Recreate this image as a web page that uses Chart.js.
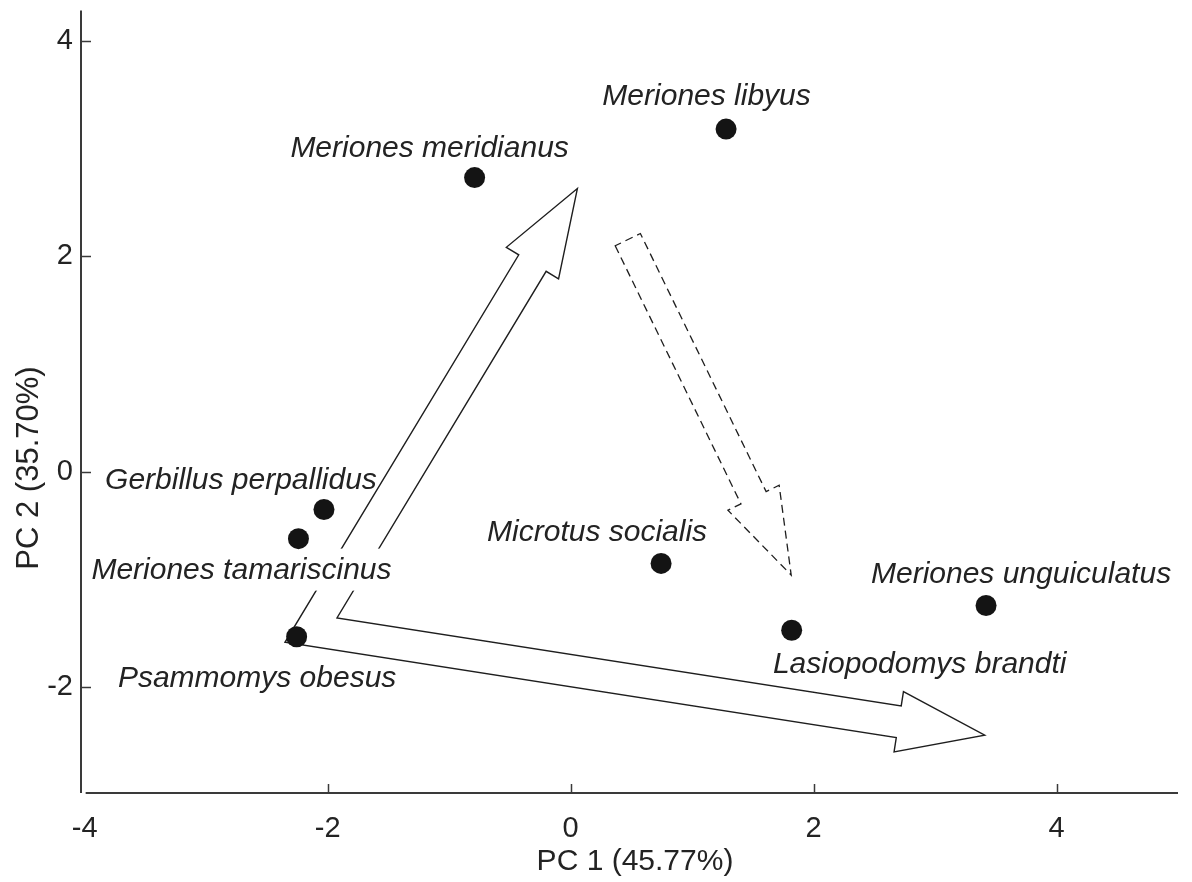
<!DOCTYPE html>
<html><head><meta charset="utf-8">
<script src="https://cdn.jsdelivr.net/npm/chart.js@4"></script>
<style>html,body{margin:0;padding:0;background:#fff}#wrap{width:1192px;height:882px;position:relative}</style>
</head><body><div id="wrap"><canvas id="c"></canvas></div>
<script>
// ---- data ----
const species = ["Meriones libyus","Meriones meridianus","Gerbillus perpallidus","Meriones tamariscinus","Psammomys obesus","Microtus socialis","Lasiopodomys brandti","Meriones unguiculatus"];
const pc1 = [1.28, -0.79, -2.03, -2.24, -2.255, 0.745, 1.82, 3.42];
const pc2 = [3.18, 2.73, -0.35, -0.62, -1.53, -0.85, -1.47, -1.24];
const xTicks = [-4, -2, 0, 2, 4];
const yTicks = [-2, 0, 2, 4];
const xTitle = "PC 1 (45.77%)";
const yTitle = "PC 2 (35.70%)";
// arrows, in data units
const solidArrowOrigin = [-2.137, -1.469];
const solidArrowTips = [[0.056, 2.628], [3.409, -2.443]];
const dashedArrowTail = [0.471, 2.154];
const dashedArrowTip = [1.816, -0.958];

// ---- layout / style ----
const FONT = "'Liberation Sans', Arial, Helvetica, sans-serif";
const INK = '#232323';
const labelOffsets = [[-19.5,-32.5],[-45,-29],[-83,-29],[-57,32],[-39.5,41.5],[-64,-31],[128,34],[35,-30.5]];
const labelBg = [false,false,false,true,false,false,false,false];

function px(chart, v){ return [chart.scales.x.getPixelForValue(v[0]), chart.scales.y.getPixelForValue(v[1])]; }
function norm(a){ const l = Math.hypot(a[0], a[1]); return [a[0]/l, a[1]/l]; }
function add(p, v, k){ return [p[0] + v[0]*k, p[1] + v[1]*k]; }
function intersect(p, d, q, e){
  const den = d[0]*e[1] - d[1]*e[0];
  const t = ((q[0]-p[0])*e[1] - (q[1]-p[1])*e[0]) / den;
  return [p[0] + t*d[0], p[1] + t*d[1]];
}
function poly(ctx, pts){
  ctx.beginPath();
  ctx.moveTo(pts[0][0], pts[0][1]);
  for (let i = 1; i < pts.length; i++) ctx.lineTo(pts[i][0], pts[i][1]);
  ctx.closePath();
  ctx.stroke();
}

const decor = {
  id: 'decor',
  beforeDatasetsDraw(chart){
    const ctx = chart.ctx;
    const ca = chart.chartArea;
    const xs = chart.scales.x, ys = chart.scales.y;
    ctx.save();
    // axes lines
    ctx.strokeStyle = '#3a3a3a';
    ctx.lineWidth = 2;
    ctx.beginPath();
    ctx.moveTo(ca.left, ca.top); ctx.lineTo(ca.left, ca.bottom);
    ctx.stroke();
    ctx.beginPath();
    ctx.moveTo(xs.getPixelForValue(xTicks[0]) + 1, ca.bottom); ctx.lineTo(ca.right, ca.bottom);
    ctx.stroke();
    // inward tick marks
    ctx.lineWidth = 1.5;
    yTicks.forEach(v => { const y = Math.round(ys.getPixelForValue(v)) + 0.5; ctx.beginPath(); ctx.moveTo(ca.left, y); ctx.lineTo(ca.left + 10, y); ctx.stroke(); });
    xTicks.slice(1).forEach(v => { const x = Math.round(xs.getPixelForValue(v)) + 0.5; ctx.beginPath(); ctx.moveTo(x, ca.bottom); ctx.lineTo(x, ca.bottom - 9); ctx.stroke(); });

    // axis titles
    ctx.fillStyle = INK;
    ctx.textAlign = 'center';
    ctx.textBaseline = 'middle';
    ctx.font = '30px ' + FONT;
    ctx.fillText(xTitle, 635, 862);
    ctx.save();
    ctx.translate(29, 468);
    ctx.rotate(-Math.PI/2);
    ctx.font = '31px ' + FONT;
    ctx.fillText(yTitle, 0, 0);
    ctx.restore();

    // solid chevron arrows
    ctx.strokeStyle = '#1e1e1e';
    ctx.lineWidth = 1.4;
    ctx.lineJoin = 'miter';
    const O = px(chart, solidArrowOrigin);
    const T1 = px(chart, solidArrowTips[0]), T2 = px(chart, solidArrowTips[1]);
    const u1 = norm([T1[0]-O[0], T1[1]-O[1]]), u2 = norm([T2[0]-O[0], T2[1]-O[1]]);
    let in1 = [-u1[1], u1[0]]; if (in1[0]*u2[0] + in1[1]*u2[1] < 0) in1 = [-in1[0], -in1[1]];
    let in2 = [-u2[1], u2[0]]; if (in2[0]*u1[0] + in2[1]*u1[1] < 0) in2 = [-in2[0], -in2[1]];
    const hw = 16, HWh = 30.5, HL = 87;
    const innerC = intersect(add(O, in1, hw), u1, add(O, in2, hw), u2);
    const outerC = intersect(add(O, in1, -hw), u1, add(O, in2, -hw), u2);
    const B1 = add(T1, u1, -HL), B2 = add(T2, u2, -HL);
    poly(ctx, [T1, add(B1,in1,HWh), add(B1,in1,hw), innerC, add(B2,in2,hw), add(B2,in2,HWh), T2,
               add(B2,in2,-HWh), add(B2,in2,-hw), outerC, add(B1,in1,-hw), add(B1,in1,-HWh)]);

    // dashed arrow
    const Tl = px(chart, dashedArrowTail), Tp = px(chart, dashedArrowTip);
    const u = norm([Tp[0]-Tl[0], Tp[1]-Tl[1]]);
    const n = [-u[1], u[0]];
    const dhw = 14, dHWh = 28.5, dHL = 86;
    const B = add(Tp, u, -dHL);
    ctx.setLineDash([8, 5]);
    ctx.lineWidth = 1.3;
    poly(ctx, [add(Tl,n,dhw), add(B,n,dhw), add(B,n,dHWh), Tp, add(B,n,-dHWh), add(B,n,-dhw), add(Tl,n,-dhw)]);
    ctx.setLineDash([]);

    // species labels
    const meta = chart.getDatasetMeta(0);
    ctx.font = 'italic 30px ' + FONT;
    ctx.textAlign = 'center';
    ctx.textBaseline = 'middle';
    species.forEach((s, i) => {
      const el = meta.data[i];
      const cx = el.x + labelOffsets[i][0], cy = el.y + labelOffsets[i][1];
      if (labelBg[i]) {
        const w = ctx.measureText(s).width;
        ctx.fillStyle = '#fff';
        ctx.fillRect(cx - w/2 - 3, cy - 22, w + 6, 42);
      }
      ctx.fillStyle = INK;
      ctx.fillText(s, cx, cy);
    });
    ctx.restore();
  }
};

new Chart(document.getElementById('c'), {
  type: 'scatter',
  data: { datasets: [{
    data: pc1.map((x, i) => ({ x: x, y: pc2[i] })),
    pointRadius: 10.5, pointHoverRadius: 10.5,
    backgroundColor: '#141414', borderWidth: 0
  }]},
  options: {
    responsive: true, maintainAspectRatio: false, animation: false, devicePixelRatio: 1,
    events: [],
    layout: { padding: { top: 10, right: 14, left: 0, bottom: 0 } },
    plugins: { legend: { display: false }, tooltip: { enabled: false } },
    scales: {
      x: {
        type: 'linear', min: -4.03, max: 5,
        afterBuildTicks: s => { s.ticks = xTicks.map(v => ({ value: v })); },
        afterFit: s => { s.height = 89; s.paddingLeft = 0; s.paddingRight = 0; },
        grid: { display: false, drawTicks: false },
        border: { display: false },
        ticks: { font: { family: FONT, size: 29 }, color: INK, padding: 19, maxRotation: 0, autoSkip: false },
        title: { display: false }
      },
      y: {
        type: 'linear', min: -2.98, max: 4.28,
        afterBuildTicks: s => { s.ticks = yTicks.map(v => ({ value: v })); },
        afterFit: s => { s.width = 81; s.paddingTop = 0; s.paddingBottom = 0; },
        grid: { display: false, drawTicks: false },
        border: { display: false },
        ticks: { font: { family: FONT, size: 29 }, color: INK, padding: 8, autoSkip: false },
        title: { display: false }
      }
    }
  },
  plugins: [decor]
});
</script>
</body></html>
